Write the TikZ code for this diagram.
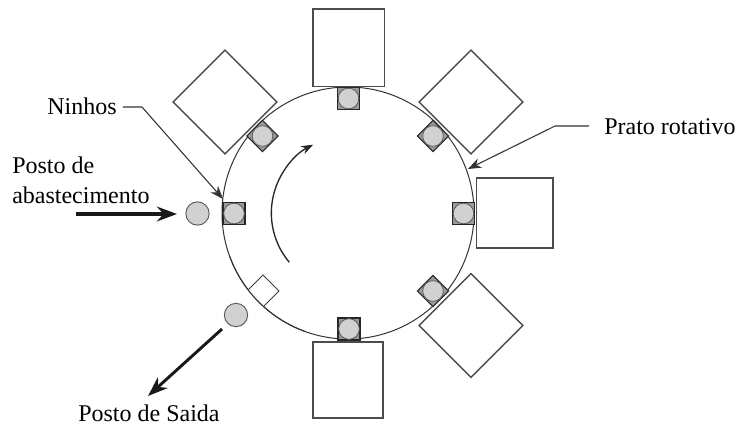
\documentclass[tikz,border=0pt]{standalone}
\usepackage{fontspec}
\setmainfont{Liberation Serif}
\usetikzlibrary{arrows.meta}
\tikzset{
  x=0.75pt,y=-0.75pt,
  plate/.style={circle,draw=black!80,line width=0.75pt,inner sep=0pt,minimum size=189pt},
  machine/.style={rectangle,draw=black!70,fill=white,line width=1pt,inner sep=0pt},
  nest/.style={rectangle,draw=black!85,fill=black!40,line width=0.8pt,inner sep=0pt,minimum size=16.5pt},
  part/.style={circle,draw=black!65,fill=black!18,line width=0.6pt,inner sep=0pt,minimum size=15.5pt},
  station/.style={circle,draw=black!65,fill=black!18,line width=0.7pt,inner sep=0pt,minimum size=17.5pt},
  label/.style={font=\fontsize{18pt}{21pt}\selectfont,inner sep=0pt,text=black},
  leader/.style={draw=black!80,line width=0.8pt,-{Stealth[length=10pt,width=7.5pt]}},
  flow/.style={draw=black!90,-{Stealth[length=15pt,width=11pt]}}
}
\begin{document}
\begin{tikzpicture}
\useasboundingbox (0,0) rectangle (739,426);
% plate
\node[plate] (plate) at (348,213) {};
% machines
\node[machine,minimum width=53.5pt,minimum height=58pt] (m1) at (348.5,47.5) {};
\node[machine,rotate=45,minimum width=55pt,minimum height=55pt] (m2) at (471,102) {};
\node[machine,minimum width=57.5pt,minimum height=52.5pt] (m3) at (514.5,213) {};
\node[machine,rotate=45,minimum width=55pt,minimum height=55pt] (m4) at (471,325.5) {};
\node[machine,minimum width=52.5pt,minimum height=57pt] (m5) at (348,380) {};
\node[machine,rotate=45,minimum width=55pt,minimum height=55pt] (m6) at (225,102) {};
% nests
\foreach \n/\px/\py/\r in {a/348.5/98.5/0,b/433/136/45,c/463.5/213.5/0,d/433/291/45,e/349/329/0,g/234/213.5/0,h/262.5/136/45}{
  \node[nest,rotate=\r] (nest\n) at (\px,\py) {};
  \node[part] (part\n) at (\px,\py) {};
}
% empty nest, hidden beyond the plate rim
\begin{scope}
  \clip (348,213) circle[radius=94.5pt];
  \node[rectangle,draw=black!75,fill=white,line width=0.75pt,rotate=45,inner sep=0pt,minimum size=17pt] (nestf) at (263,291) {};
\end{scope}
\draw[draw=black!80,line width=0.75pt] (plate.center) ++(200:94.5pt) arc[start angle=200,end angle=250,radius=94.5pt];
% stations
\node[station] (load) at (197.5,213.5) {};
\node[station] (unload) at (236,315) {};
% rotation arrow
\draw[draw=black!85,line width=1pt,-{Stealth[length=9pt,width=6.5pt]}] (plate.center) ++(220:57.5pt) arc[start angle=220,end angle=117,radius=57.5pt];
% labels
\node[label,anchor=west] (ninhos) at (47,106) {Ninhos};
\node[label,anchor=west] (posto) at (12,165) {Posto de};
\node[label,anchor=west] (abast) at (12,195) {abastecimento};
\node[label,anchor=west] (prato) at (604,127) {Prato rotativo};
\node[label,anchor=west] (saida) at (78,413) {Posto de Saida};
% leaders
\coordinate (nbend) at (142,107);
\coordinate (ntip) at (223,199);
\coordinate (pbend) at (555,126);
\coordinate (ptip) at (468,169);
\draw[leader] (ninhos.east) ++(6,1) -- (nbend) -- (ntip);
\draw[leader] (prato.west) ++(-15,-1) -- (pbend) -- (ptip);
% flow arrows
\coordinate (loadfrom) at (76,214);
\coordinate (loadto) at (177,214);
\coordinate (outfrom) at (222,329);
\coordinate (outto) at (148,396);
\draw[flow,line width=3pt] (loadfrom) -- (loadto);
\draw[flow,line width=2.2pt] (outfrom) -- (outto);
\end{tikzpicture}
\end{document}
